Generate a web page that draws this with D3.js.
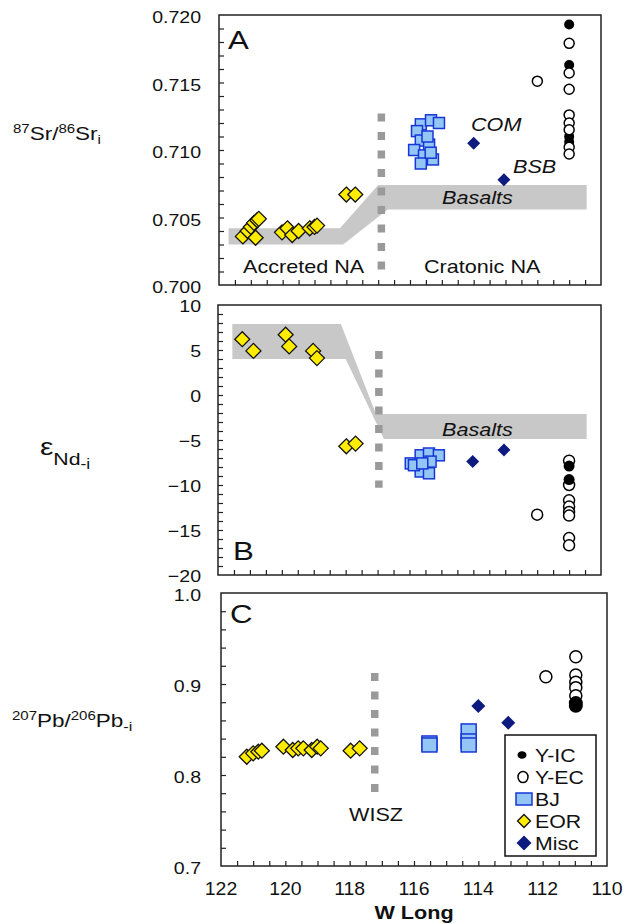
<!DOCTYPE html>
<html><head><meta charset="utf-8">
<script src="https://cdn.jsdelivr.net/npm/d3@7"></script>
<style>
body{margin:0;background:#fff}
svg{display:block}
text{font-family:"Liberation Sans",Arial,Helvetica,sans-serif;fill:#111}
</style>
</head><body>
<svg id="chart" width="628" height="924"></svg>
<script>
// ---------------- DATA ----------------
const xTickLabels = [122, 120, 118, 116, 114, 112, 110];
const srTickLabels = [0.700, 0.705, 0.710, 0.715, 0.720];
const ndTickLabels = [-20, -15, -10, -5, 0, 5, 10];
const pbTickLabels = [0.7, 0.8, 0.9, 1.0];
const legendLabels = ["Y-IC", "Y-EC", "BJ", "EOR", "Misc"];

// Panel A: 87Sr/86Sr_i  [W long, value]
const srEOR = [[121.25,0.7036],[121.10,0.7040],[121.00,0.7043],[120.90,0.7046],[120.80,0.7048],[120.75,0.7049],[120.85,0.7035],
  [120.02,0.7039],[119.85,0.7042],[119.70,0.7037],[119.50,0.7040],
  [119.15,0.7042],[119.00,0.7043],[118.92,0.7044],
  [118.00,0.7067],[117.72,0.7067]];
const srBJ = [[115.66,0.7119],[115.34,0.7122],[115.09,0.7120],[115.78,0.7114],[115.66,0.7107],[115.40,0.7104],
  [115.87,0.7100],[115.56,0.7096],[115.28,0.7093],[115.66,0.7090],[115.45,0.7110],[115.35,0.7098]];
const srMisc = [[114.0,0.7105],[113.05,0.7078]];
const srYIC = [[111.0,0.7193],[111.0,0.7163],[111.0,0.7110],[111.0,0.7106]];
const srYEC = [[112.0,0.7151],[111.0,0.7179],[111.0,0.7157],[111.0,0.7145],[111.0,0.7126],[111.0,0.7120],
  [111.0,0.7115],[111.0,0.7102],[111.0,0.7097]];
const srBand = [[121.7,0.7042],[118.2,0.7042],[117.0,0.7074],[110.45,0.7074],[110.45,0.7056],[116.7,0.7056],[118.1,0.7030],[121.7,0.7030]];
const srWISZ = [116.9, 0.7127, 0.7010];

// Panel B: eNd_i
const ndEOR = [[121.24,6.2],[120.89,4.9],[119.88,6.7],[119.77,5.4],[119.02,4.9],[118.90,4.1],[117.98,-5.7],[117.69,-5.4]];
const ndBJ = [[115.96,-7.6],[115.65,-6.7],[115.39,-6.5],[115.08,-6.7],[115.34,-7.4],[115.65,-8.5],[115.39,-8.7],[115.86,-7.8],[115.6,-7.6]];
const ndMisc = [[114.02,-7.4],[113.04,-6.1]];
const ndYIC = [[111.0,-7.9],[111.0,-9.4]];
const ndYEC = [[112.0,-13.3],[111.0,-7.3],[111.0,-10.0],[111.0,-11.7],[111.0,-12.4],[111.0,-13.0],[111.0,-13.4],[111.0,-15.9],[111.0,-16.7]];
const ndBand = [[121.55,7.9],[118.15,7.9],[117.05,-2.1],[110.45,-2.1],[110.45,-4.9],[116.8,-4.9],[118.0,4.0],[121.55,4.0]];
const ndWISZ = [116.96, 4.9, -10.3];

// Panel C: 207Pb/206Pb_i
const pbEOR = [[121.20,0.8201],[121.0,0.8238],[120.84,0.8256],[120.73,0.8267],[120.06,0.8311],[119.77,0.8275],[119.60,0.8293],
  [119.44,0.8293],[119.18,0.8275],[119.01,0.8311],[118.90,0.8293],[117.97,0.8267],[117.69,0.8293]];
const pbBJ = [[115.52,0.8352],[115.52,0.8330],[114.30,0.8484],[114.30,0.8374],[114.30,0.8330]];
const pbMisc = [[114.0,0.8758],[113.07,0.8575]];
const pbYEC = [[111.9,0.908],[110.97,0.930],[110.97,0.910],[110.97,0.902],[110.97,0.896],[110.97,0.887]];
const pbYIC = [[110.97,0.879],[110.97,0.876]];
const pbWISZ = [117.22, 0.912, 0.781];

// ---------------- STYLE ----------------
const C = {frame:"#222", band:"#c8c8c8", wisz:"#9a9a9a", eor:"#ffec00", bjFill:"#93c6f4", bjStroke:"#1636d8", misc:"#0d1a7e"};
const svg = d3.select("#chart");

function txt(g, x, y, s, o = {}) {
  const t = g.append("text")
    .attr("transform", `translate(${x},${y}) scale(${o.sx || 1.12},1)`)
    .attr("text-anchor", o.anchor || "start")
    .attr("font-size", o.size || 17)
    .text(s);
  if (o.italic) t.attr("font-style", "italic");
  if (o.bold) t.attr("font-weight", "bold");
  return t;
}
const diamond = h => `M0,${-h}L${h},0L0,${h}L${-h},0Z`;

function panel(cfg) {
  const g = svg.append("g");
  const x = d3.scaleLinear().domain([122, 110]).range([cfg.x0, cfg.x1]);
  const y = d3.scaleLinear().domain(cfg.ydom).range([cfg.y1, cfg.y0]);
  if (cfg.band) {
    g.append("path").attr("d", d3.line().x(d => x(d[0])).y(d => y(d[1]))(cfg.band) + "Z").attr("fill", C.band);
  }
  g.append("line").attr("x1", x(cfg.wisz[0])).attr("x2", x(cfg.wisz[0]))
    .attr("y1", y(cfg.wisz[1])).attr("y2", y(cfg.wisz[2]))
    .attr("stroke", C.wisz).attr("stroke-width", 7.5).attr("stroke-dasharray", "8,10.5");
  const ya = d3.axisLeft(y).tickValues(cfg.yminor).tickSize(-5).tickFormat("");
  const yg = g.append("g").attr("transform", `translate(${cfg.x0},0)`).call(ya);
  yg.select(".domain").remove();
  yg.selectAll("line").attr("stroke", C.frame).attr("stroke-width", 1.2);
  const xa = d3.axisBottom(x).tickValues(d3.range(121.5, 110.4, -0.5)).tickSize(-5).tickFormat("");
  const xg = g.append("g").attr("transform", `translate(0,${cfg.y1})`).call(xa);
  xg.select(".domain").remove();
  xg.selectAll("line").attr("stroke", C.frame).attr("stroke-width", 1.2);
  g.append("rect").attr("x", cfg.x0).attr("y", cfg.y0).attr("width", cfg.x1 - cfg.x0).attr("height", cfg.y1 - cfg.y0)
    .attr("fill", "none").attr("stroke", C.frame).attr("stroke-width", 1.5);
  cfg.ylabels.forEach(v => txt(g, 201, y(v) + cfg.lblDy, cfg.fmt(v), {anchor: "end", size: 17, sx: 1.15}));
  txt(g, cfg.letter[1], cfg.letter[2], cfg.letter[0], {size: 26, sx: 1.2});
  return {g, x, y};
}

function markers(p, eor, bj, misc, yic, yec, o) {
  const {g, x, y} = p;
  g.selectAll(null).data(eor).join("path").attr("d", diamond(o.dH))
    .attr("transform", d => `translate(${x(d[0])},${y(d[1])})`)
    .attr("fill", C.eor).attr("stroke", "#111").attr("stroke-width", 1.3);
  g.selectAll(null).data(bj).join("rect")
    .attr("x", d => x(d[0]) - o.bw / 2).attr("y", d => y(d[1]) - o.bh / 2)
    .attr("width", o.bw).attr("height", o.bh)
    .attr("fill", C.bjFill).attr("stroke", C.bjStroke).attr("stroke-width", 1.5);
  g.selectAll(null).data(misc).join("path").attr("d", diamond(o.mH))
    .attr("transform", d => `translate(${x(d[0])},${y(d[1])})`).attr("fill", C.misc);
  const drawIC = () => g.selectAll(null).data(yic).join("circle")
    .attr("cx", d => x(d[0])).attr("cy", d => y(d[1])).attr("r", o.rIC).attr("fill", "#000");
  const drawEC = () => g.selectAll(null).data(yec).join("circle")
    .attr("cx", d => x(d[0])).attr("cy", d => y(d[1])).attr("r", o.rEC)
    .attr("fill", "#fff").attr("stroke", "#000").attr("stroke-width", 1.5);
  if (o.openOnTop) { drawIC(); drawEC(); } else { drawEC(); drawIC(); }
}

// ---------------- PANEL A ----------------
const pA = panel({x0: 219, x1: 601, y0: 15, y1: 285, ydom: [0.700, 0.720],
  yminor: d3.range(0.701, 0.7195, 0.001), ylabels: srTickLabels, fmt: d3.format(".3f"), lblDy: 8,
  band: srBand, wisz: srWISZ, letter: ["A", 228, 49]});
txt(pA.g, 243, 273, "Accreted NA", {size: 18, sx: 1.2});
txt(pA.g, 424, 273, "Cratonic NA", {size: 18, sx: 1.2});
txt(pA.g, 442, 204, "Basalts", {size: 18, sx: 1.2, italic: true});
txt(pA.g, 471, 131, "COM", {size: 18, sx: 1.2, italic: true});
txt(pA.g, 513, 173, "BSB", {size: 18, sx: 1.2, italic: true});
markers(pA, srEOR, srBJ, srMisc, srYIC, srYEC, {dH: 7.5, bw: 11, bh: 11, mH: 6.5, rIC: 5, rEC: 5, openOnTop: true});

// ---------------- PANEL B ----------------
const pB = panel({x0: 218, x1: 601, y0: 305, y1: 575, ydom: [-20, 10],
  yminor: d3.range(-19, 10, 1), ylabels: ndTickLabels, fmt: d3.format("d"), lblDy: 6.5,
  band: ndBand, wisz: ndWISZ, letter: ["B", 233, 560]});
txt(pB.g, 442, 436, "Basalts", {size: 18, sx: 1.2, italic: true});
markers(pB, ndEOR, ndBJ, ndMisc, ndYIC, ndYEC, {dH: 7.5, bw: 11, bh: 11, mH: 6.5, rIC: 5.5, rEC: 5.5, openOnTop: false});

// ---------------- PANEL C ----------------
const pC = panel({x0: 221, x1: 607, y0: 593, y1: 866, ydom: [0.7, 1.0],
  yminor: d3.range(0.72, 0.99, 0.02), ylabels: pbTickLabels, fmt: d3.format(".1f"), lblDy: 8,
  band: null, wisz: pbWISZ, letter: ["C", 230, 623]});
txt(pC.g, 349, 821, "WISZ", {size: 18, sx: 1.2});
markers(pC, pbEOR, pbBJ, pbMisc, pbYIC, pbYEC, {dH: 7.5, bw: 15, bh: 14, mH: 7, rIC: 7, rEC: 6, openOnTop: false});

xTickLabels.forEach(v => txt(svg, pC.x(v), 895, String(v), {anchor: "middle", size: 18, sx: 1.08}));
txt(svg, 414, 919, "W Long", {anchor: "middle", size: 18, sx: 1.2, bold: true});

// legend
const lg = svg.append("g");
lg.append("rect").attr("x", 505).attr("y", 735).attr("width", 91).attr("height", 121)
  .attr("fill", "#fff").attr("stroke", "#111").attr("stroke-width", 1.5);
legendLabels.forEach((lab, i) => {
  const cy = 755 + i * 22;
  if (lab === "Y-IC") lg.append("ellipse").attr("cx", 522).attr("cy", cy).attr("rx", 4.5).attr("ry", 3.8).attr("fill", "#000");
  if (lab === "Y-EC") lg.append("ellipse").attr("cx", 523).attr("cy", cy).attr("rx", 5).attr("ry", 5.5).attr("fill", "#fff").attr("stroke", "#000").attr("stroke-width", 1.5);
  if (lab === "BJ") lg.append("rect").attr("x", 516).attr("y", cy - 6).attr("width", 16).attr("height", 12).attr("fill", C.bjFill).attr("stroke", C.bjStroke).attr("stroke-width", 1.5);
  if (lab === "EOR") lg.append("path").attr("d", diamond(6.5)).attr("transform", `translate(524,${cy})`).attr("fill", C.eor).attr("stroke", "#111").attr("stroke-width", 1.3);
  if (lab === "Misc") lg.append("path").attr("d", diamond(7.5)).attr("transform", `translate(524,${cy})`).attr("fill", C.misc);
  txt(lg, 535, cy + 7, lab, {size: 19, sx: 1.12});
});

// y-axis titles
const tA = svg.append("text").attr("transform", "translate(13,140) scale(1.25,1)").attr("font-size", 18);
tA.append("tspan").attr("font-size", 12).attr("dy", -7).text("87");
tA.append("tspan").attr("dy", 7).text("Sr/");
tA.append("tspan").attr("font-size", 12).attr("dy", -7).text("86");
tA.append("tspan").attr("dy", 7).text("Sr");
tA.append("tspan").attr("font-size", 12).attr("dy", 4).text("i");

const tB = svg.append("text").attr("transform", "translate(40,455) scale(1.25,1)").attr("font-size", 24);
tB.append("tspan").text("ε");
tB.append("tspan").attr("font-size", 17).attr("dy", 10).text("Nd");
tB.append("tspan").attr("font-size", 14).attr("dy", 4).text("-i");

const tC = svg.append("text").attr("transform", "translate(12,727) scale(1.25,1)").attr("font-size", 18);
tC.append("tspan").attr("font-size", 12).attr("dy", -7).text("207");
tC.append("tspan").attr("dy", 7).text("Pb/");
tC.append("tspan").attr("font-size", 12).attr("dy", -7).text("206");
tC.append("tspan").attr("dy", 7).text("Pb");
tC.append("tspan").attr("font-size", 13).attr("dy", 4).text("-i");
</script>
</body></html>
